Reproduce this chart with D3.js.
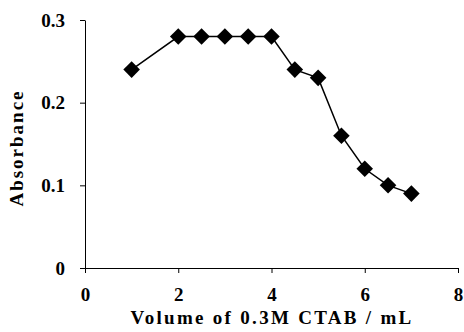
<!DOCTYPE html>
<html><head><meta charset="utf-8">
<script src="https://cdn.jsdelivr.net/npm/d3@7"></script>
<style>body{margin:0;background:#fff}</style>
</head><body>
<svg id="c" width="464" height="332"></svg>
<script>
const volumes = [1, 2, 2.5, 3, 3.5, 4, 4.5, 5, 5.5, 6, 6.5, 7];
const absorbance = [0.24, 0.28, 0.28, 0.28, 0.28, 0.28, 0.24, 0.23, 0.16, 0.12, 0.10, 0.09];
const xTicks = [0, 2, 4, 6, 8];
const yTicks = [0, 0.1, 0.2, 0.3];
const xTitle = "Volume of 0.3M CTAB / mL";
const yTitle = "Absorbance";

const svg = d3.select("#c");
const font = "'Liberation Serif','Times New Roman',serif";
const x = d3.scaleLinear().domain([0, 8]).range([85, 458]);
const y = d3.scaleLinear().domain([0, 0.3]).range([268, 20]);

const xa = svg.append("g").attr("transform", "translate(0,268)")
  .call(d3.axisBottom(x).tickValues(xTicks).tickFormat(d3.format("d")).tickSize(5).tickSizeOuter(0));
const ya = svg.append("g").attr("transform", "translate(85,0)")
  .call(d3.axisLeft(y).tickValues(yTicks).tickFormat(d => d === 0 ? "0" : d3.format(".1f")(d)).tickSize(5).tickSizeOuter(0));
[xa, ya].forEach(a => {
  a.selectAll("path,line").attr("stroke", "#000").attr("stroke-width", 1);
  a.selectAll("text").attr("font-family", font).attr("font-weight", "bold").attr("font-size", 19).attr("fill", "#000");
});
xa.selectAll("text").attr("dy", null).attr("y", 33);
ya.selectAll("text").attr("x", -20).attr("dy", "0.33em");

const pts = volumes.map((v, i) => [v, absorbance[i]]);
svg.append("path").datum(pts)
  .attr("fill", "none").attr("stroke", "#000").attr("stroke-width", 1.5)
  .attr("d", d3.line().x(d => x(d[0])).y(d => y(d[1])));

svg.append("g").selectAll("path").data(pts).join("path")
  .attr("transform", d => `translate(${x(d[0])},${y(d[1])})`)
  .attr("d", d3.symbol(d3.symbolDiamond2, 175))
  .attr("fill", "#000");

svg.append("text").attr("x", 272).attr("y", 324).attr("text-anchor", "middle")
  .attr("font-family", font).attr("font-weight", "bold").attr("font-size", 19)
  .attr("letter-spacing", 2.3).text(xTitle);
svg.append("text").attr("transform", "translate(23,148) rotate(-90)").attr("text-anchor", "middle")
  .attr("font-family", font).attr("font-weight", "bold").attr("font-size", 19)
  .attr("letter-spacing", 2).text(yTitle);
</script>
</body></html>
